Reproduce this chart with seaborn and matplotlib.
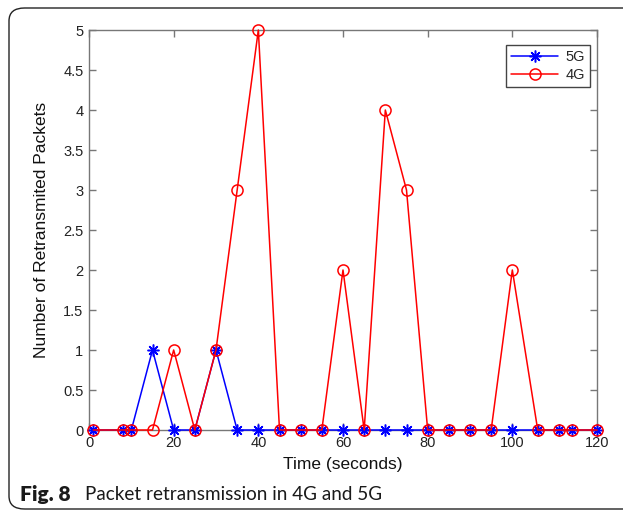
import matplotlib
matplotlib.use("Agg")
import matplotlib.pyplot as plt
from matplotlib.patches import FancyBboxPatch
import seaborn as sns
import pandas as pd

# ---- data ----
time_s = [1, 8, 10, 15, 20, 25, 30, 35, 40, 45, 50, 55, 60, 65, 70, 75, 80,
          85, 90, 95, 100, 106, 111, 114, 120]
retx_5g = [0, 0, 0, 1, 0, 0, 1, 0, 0, 0, 0, 0, 0, 0, 0, 0, 0,
           0, 0, 0, 0, 0, 0, 0, 0]
retx_4g = [0, 0, 0, 0, 1, 0, 1, 3, 5, 0, 0, 0, 2, 0, 4, 3, 0,
           0, 0, 0, 2, 0, 0, 0, 0]
series_names = ["5G", "4G"]
x_ticks = [0, 20, 40, 60, 80, 100, 120]
y_ticks = [0, 0.5, 1, 1.5, 2, 2.5, 3, 3.5, 4, 4.5, 5]
y_tick_labels = ["0", "0.5", "1", "1.5", "2", "2.5", "3", "3.5", "4", "4.5", "5"]
x_label = "Time (seconds)"
y_label = "Number of Retransmited Packets"
caption_bold = "Fig. 8"
caption_text = "Packet retransmission in 4G and 5G"

sns.set_theme(style="white")
plt.rcParams["font.family"] = ["Liberation Sans", "DejaVu Sans"]

fig = plt.figure(figsize=(6.23, 5.17), dpi=100)
ax = fig.add_axes([89 / 623, 1 - 430 / 517, (597 - 89) / 623, (430 - 30) / 517])

df5 = pd.DataFrame({"t": time_s, "v": retx_5g})
df4 = pd.DataFrame({"t": time_s, "v": retx_4g})

sns.lineplot(data=df5, x="t", y="v", ax=ax, color="#0000ff", lw=1.1,
             marker=(8, 2, 0), markersize=8.5, markeredgewidth=1.1,
             markeredgecolor="#0000ff", label=series_names[0], zorder=3,
             clip_on=False)
sns.lineplot(data=df4, x="t", y="v", ax=ax, color="#ff0000", lw=1.1,
             marker="o", markersize=8, markerfacecolor="none",
             markeredgewidth=1.1, markeredgecolor="#ff0000",
             label=series_names[1], zorder=4, clip_on=False)

ax.set_xlim(0, 120)
ax.set_ylim(0, 5)
ax.set_xticks(x_ticks)
ax.set_yticks(y_ticks)
ax.set_yticklabels(y_tick_labels)

axis_grey = "#777777"
for s in ax.spines.values():
    s.set_visible(True)
    s.set_color(axis_grey)
    s.set_linewidth(1.0)
ax.tick_params(axis="both", direction="in", length=5, width=1.0,
               color=axis_grey, labelsize=10.5, labelcolor="#222222",
               top=True, right=True, bottom=True, left=True, pad=4)

ax.set_xlabel(x_label, fontsize=12.5, color="#111111", labelpad=5)
ax.set_ylabel(y_label, fontsize=12.5, color="#111111", labelpad=10)

leg = ax.legend(loc="upper right", bbox_to_anchor=(0.986, 0.962),
                fontsize=10.5, frameon=True, fancybox=False, framealpha=1,
                edgecolor="#444444", handlelength=3.2, borderpad=0.35,
                labelspacing=0.25, handletextpad=0.5, borderaxespad=0)
leg.get_frame().set_linewidth(1.0)

# outer rounded frame (cut at right edge like reference)
frame = FancyBboxPatch((9 / 623, 8 / 517), 1.2, (509 - 8) / 517,
                       boxstyle="round,pad=0,rounding_size=0.025",
                       transform=fig.transFigure, fill=False,
                       edgecolor="#222222", linewidth=1.0, clip_on=False)
fig.patches.append(frame)

fig.text(20 / 623, 1 - 494 / 517, caption_bold, fontsize=15,
         fontweight="heavy", family=["Lato", "DejaVu Sans"],
         color="#1a1a1a", va="center", ha="left")
fig.text(85 / 623, 1 - 494 / 517, caption_text, fontsize=13.6,
         family=["Lato", "DejaVu Sans"], color="#1a1a1a",
         va="center", ha="left")

fig.savefig("out.png", dpi=100)
